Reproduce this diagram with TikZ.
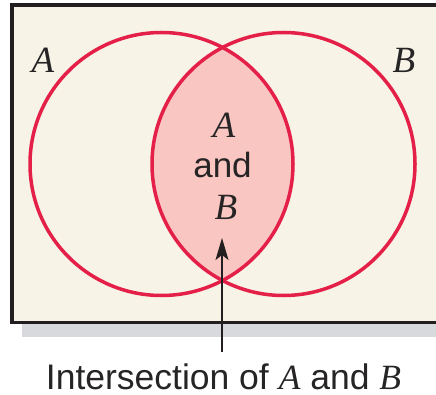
\documentclass[tikz,border=0pt]{standalone}
\usepackage{fontspec}
\setmainfont{Liberation Sans}
\newfontfamily\varserif{Liberation Serif}
\newcommand{\varA}{{\varserif\itshape A}}
\newcommand{\varB}{{\varserif\itshape B}}
\usetikzlibrary{arrows.meta}
\definecolor{bgcream}{RGB}{247,243,231}
\definecolor{vennred}{RGB}{228,32,72}
\definecolor{lenspink}{RGB}{250,198,194}
\definecolor{frameink}{RGB}{35,31,32}
\definecolor{textink}{RGB}{38,36,37}
\definecolor{shadowgray}{RGB}{216,217,220}
\tikzset{
  setcircle/.style={draw=vennred, line width=3.5pt},
  lbl/.style={inner sep=0pt, text=textink, font=\fontsize{35}{40}\selectfont},
  caplbl/.style={inner sep=0pt, text=textink, font=\fontsize{35.5}{40}\selectfont},
  varlbl/.style={inner sep=0pt, text=textink, font=\fontsize{37}{40}\selectfont},
  pointer/.style={draw=frameink, line width=1.4pt, -{Stealth[length=22pt, width=13pt, inset=5pt]}}
}
\begin{document}
\begin{tikzpicture}[x=1pt, y=-1pt]
\useasboundingbox (0,0) rectangle (436,395);
\begin{scope}
\clip (0,0) rectangle (436,395);
% shadow
\fill[shadowgray] (22,322) rectangle (445,337);
% frame
\draw[fill=bgcream, draw=frameink, line width=3.5pt] (12,5) rectangle (450,322.5);
\end{scope}
% lens
\begin{scope}
\clip (161.5,164) circle (131.5);
\fill[lenspink] (283.5,164) circle (131.5);
\end{scope}
\node[setcircle, circle, minimum size=263pt, inner sep=0pt] (setA) at (161.5,164) {};
\node[setcircle, circle, minimum size=263pt, inner sep=0pt] (setB) at (283.5,164) {};
% labels
\node[varlbl, anchor=base] (labA) at (43,73) {\varA};
\node[varlbl, anchor=base] (labB) at (404,73) {\varB};
\node[varlbl, anchor=base] (inA) at (224,138) {\varA};
\node[lbl, anchor=base] (inand) at (222.5,178) {and};
\node[varlbl, anchor=base] (inB) at (226,220) {\varB};
% caption and pointer
\node[caplbl, anchor=base] (caption) at (223.5,389) {Intersection of \varA\ and \varB};
\coordinate (tail) at (222,352);
\coordinate (tip) at (222,238);
\draw[pointer] (tail) -- (tip);
\end{tikzpicture}
\end{document}
